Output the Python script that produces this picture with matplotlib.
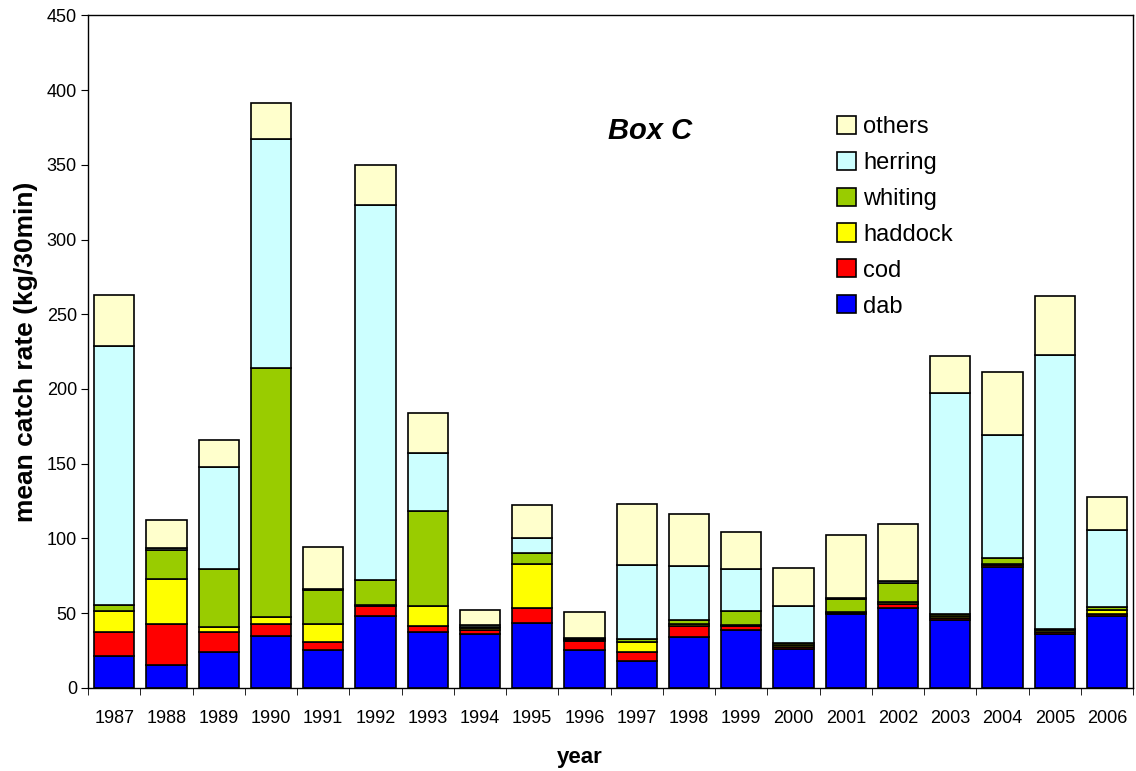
import matplotlib
matplotlib.use("Agg")
import matplotlib.pyplot as plt
import numpy as np

plt.rcParams["font.family"] = ["Liberation Sans", "DejaVu Sans"]

years = [str(y) for y in range(1987, 2007)]
species = ["dab", "cod", "haddock", "whiting", "herring", "others"]
colors = ["#0000FF", "#FF0000", "#FFFF00", "#99CC00", "#CCFFFF", "#FFFFCC"]

dab = [21.4, 15.0, 24.1, 34.4, 25.2, 48.3, 37.1, 36.2, 43.6, 25.5,
       18.1, 34.0, 38.4, 26.1, 49.1, 53.2, 45.6, 80.7, 36.0, 47.8]
cod = [15.9, 27.9, 13.2, 8.3, 5.6, 6.2, 4.0, 2.2, 9.6, 6.0,
       5.8, 7.6, 2.6, 0.9, 0.8, 3.1, 1.2, 1.2, 1.2, 1.6]
haddock = [13.9, 30.2, 3.6, 4.7, 12.1, 1.1, 13.9, 1.6, 29.9, 0.5,
           6.7, 1.3, 1.0, 1.4, 0.6, 0.9, 1.0, 1.2, 1.2, 2.9]
whiting = [4.4, 19.2, 38.9, 166.6, 22.6, 16.8, 63.2, 0.9, 6.9, 0.5,
           1.8, 2.2, 9.2, 1.6, 8.9, 12.9, 1.8, 3.6, 0.9, 1.5]
herring = [173.4, 1.2, 68.2, 153.3, 0.8, 250.6, 38.8, 0.9, 9.9, 0.5,
           49.6, 36.2, 28.6, 25.0, 0.9, 1.2, 147.4, 82.3, 183.7, 52.1]
others = [34.0, 19.1, 18.0, 23.9, 28.0, 27.0, 27.0, 10.5, 22.1, 17.7,
          41.1, 34.9, 24.3, 25.4, 41.8, 38.4, 25.0, 42.0, 39.0, 21.7]


def main() -> None:
    series = [dab, cod, haddock, whiting, herring, others]
    fig = plt.figure(figsize=(11.36, 7.71), dpi=100)
    ax = fig.add_axes([0.0775, 0.108, 0.92, 0.872])

    x = np.arange(len(years))
    bottom = np.zeros(len(years))
    handles = []
    for name, vals, col in zip(species, series, colors):
        vals = np.array(vals)
        h = ax.bar(x, vals, 0.77, bottom=bottom, color=col,
                   edgecolor="black", linewidth=1.2, label=name)
        handles.append(h)
        bottom += vals

    ax.set_xlim(-0.5, len(years) - 0.5)
    ax.set_ylim(0, 450)
    ax.set_yticks(np.arange(0, 451, 50))
    ax.set_xticks(x)
    ax.set_xticklabels(years)
    ax.set_xticks(np.arange(-0.5, len(years), 1), minor=True)
    ax.tick_params(axis="x", which="major", length=0, pad=16, labelsize=13)
    ax.tick_params(axis="x", which="minor", length=5, direction="out")
    ax.tick_params(axis="y", length=5, direction="out", labelsize=13, pad=3)
    for s in ax.spines.values():
        s.set_linewidth(1.0)

    ax.set_xlabel("year", fontsize=16, fontweight="bold")
    ax.xaxis.set_label_coords(0.47, -0.088)
    ax.set_ylabel("mean catch rate (kg/30min)", fontsize=19, fontweight="bold", labelpad=6)

    ax.text(0.538, 0.828, "Box C", transform=ax.transAxes, fontsize=21,
            fontweight="bold", style="italic", ha="center", va="center")

    ax.legend(handles[::-1], species[::-1], loc="upper left",
              bbox_to_anchor=(0.737, 0.85), bbox_transform=fig.transFigure,
              frameon=False, fontsize=17, borderpad=0,
              handlelength=0.8, handleheight=0.8, handletextpad=0.3,
              labelspacing=0.58, borderaxespad=0)

    fig.savefig("out.png", dpi=100)


if __name__ == "__main__":
    main()
